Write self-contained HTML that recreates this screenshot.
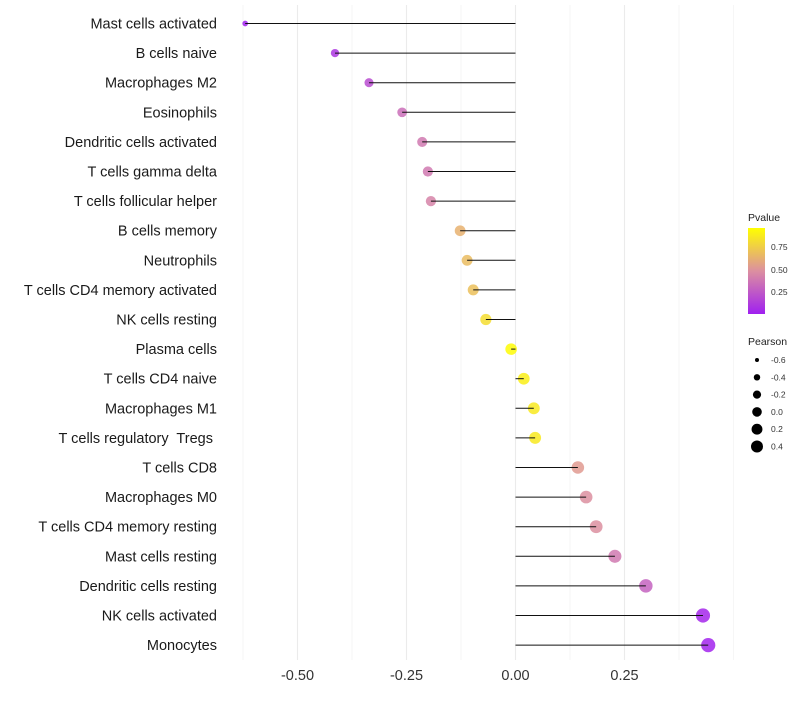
<!DOCTYPE html>
<html><head><meta charset="utf-8"><style>
body{margin:0;background:#fff;font-family:"Liberation Sans",sans-serif}
text{white-space:pre}
</style></head><body>
<svg id="chart" width="800" height="700" xmlns="http://www.w3.org/2000/svg">
<g id="grid"></g>
<g id="points"></g>
<g id="stems"></g>
<g id="ylab" font-size="14.5" fill="#1a1a1a" text-anchor="end"></g>
<g id="xlab" font-size="14.5" fill="#333" text-anchor="middle"></g>
<g>
<defs><linearGradient id="pg" x1="0" y1="1" x2="0" y2="0">
<stop offset="0" stop-color="#a020f0"/><stop offset="0.5" stop-color="#dc8fa0"/><stop offset="1" stop-color="#ffff00"/></linearGradient></defs>
<text x="748" y="221" font-size="10.5" fill="#222">Pvalue</text>
<rect x="748" y="228" width="17" height="86" fill="url(#pg)"/>
<text x="771" y="250" font-size="8.5" fill="#333">0.75</text>
<text x="771" y="273" font-size="8.5" fill="#333">0.50</text>
<text x="771" y="295" font-size="8.5" fill="#333">0.25</text>
</g>
<g id="sizeleg">
<text x="748" y="345" font-size="10.5" fill="#222">Pearson</text>
</g>
</svg>
<script>
const cats=["Mast cells activated","B cells naive","Macrophages M2","Eosinophils","Dendritic cells activated","T cells gamma delta","T cells follicular helper","B cells memory","Neutrophils","T cells CD4 memory activated","NK cells resting","Plasma cells","T cells CD4 naive","Macrophages M1","T cells regulatory  Tregs ","T cells CD8","Macrophages M0","T cells CD4 memory resting","Mast cells resting","Dendritic cells resting","NK cells activated","Monocytes"];
const pearson=[-0.620,-0.414,-0.336,-0.260,-0.214,-0.201,-0.194,-0.127,-0.111,-0.097,-0.068,-0.010,0.019,0.042,0.045,0.143,0.162,0.185,0.228,0.299,0.430,0.442];
const pvals=[0.01,0.1,0.2,0.35,0.4,0.4,0.45,0.65,0.7,0.72,0.85,0.98,0.93,0.9,0.9,0.55,0.5,0.5,0.4,0.3,0.03,0.02];
const xTicks=[-0.5,-0.25,0,0.25];
const xTickLabels=["-0.50","-0.25","0.00","0.25"];
const sizeBreaks=[-0.6,-0.4,-0.2,0.0,0.2,0.4];
const NS="http://www.w3.org/2000/svg";
const X=v=>515.5+v*436;
const Y=i=>23.5+i*29.6;
const RL=v=>Math.sqrt(Math.max(0.3,4+32*(v+0.6)));
const R=v=>Math.max(1.7,RL(v)+1);
function col(p){
 const s=[[0,[160,32,240]],[0.5,[220,143,160]],[1,[255,255,0]]];
 let a=s[0],b=s[1]; if(p>0.5){a=s[1];b=s[2];}
 const t=(p-a[0])/(b[0]-a[0]);
 return "rgb("+a[1].map((c,k)=>Math.round(c+(b[1][k]-c)*t)).join(",")+")";
}
function el(tag,attrs,parent){const e=document.createElementNS(NS,tag);for(const k in attrs)e.setAttribute(k,attrs[k]);parent.appendChild(e);return e;}
const grid=document.getElementById('grid');
for(let v=-0.625;v<=0.5001;v+=0.125){
 const major=xTicks.some(t=>Math.abs(t-v)<1e-6);
 const g=el('line',{x1:X(v),x2:X(v),y1:5,y2:660,stroke:major?"#ebebeb":"#f4f4f4","stroke-width":major?1.1:0.8},grid);
 
 
}
const points=document.getElementById('points'),stems=document.getElementById('stems'),ylab=document.getElementById('ylab'),xlab=document.getElementById('xlab');
cats.forEach((c,i)=>{
 const y=Y(i);
 const p=el('circle',{cx:X(pearson[i]),cy:y,r:R(pearson[i]),fill:col(pvals[i]),"fill-opacity":0.85},points);
 
 
 const s=el('line',{x1:X(0),x2:X(pearson[i]),y1:y,y2:y,stroke:"#111","stroke-width":1},stems);
 
 
 const t=el('text',{x:217,y:y+5},ylab);t.textContent=c;
 
 
});
xTicks.forEach((v,i)=>{
 const t=el('text',{x:X(v),y:680},xlab);t.textContent=xTickLabels[i];
 
 
});
const sl=document.getElementById('sizeleg');
sizeBreaks.forEach((v,i)=>{
 const y=360+i*17.3;
 const c=el('circle',{cx:757,cy:y,r:RL(v)},sl);
 
 
 const t=el('text',{x:771,y:y+3,"font-size":8.5,fill:"#333"},sl);t.textContent=v.toFixed(1);
 
 
});
</script>
</body></html>
